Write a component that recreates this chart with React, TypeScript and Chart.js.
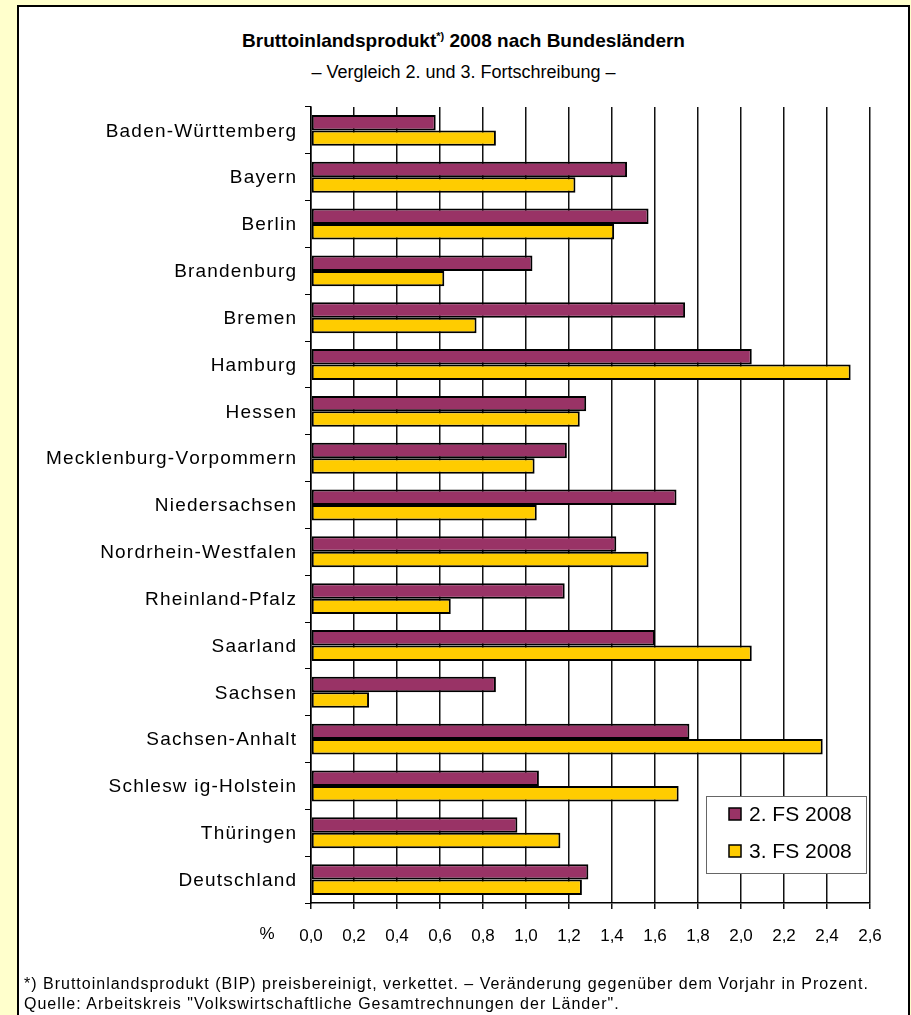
import { useEffect, useRef } from 'react';
import { Chart, registerables } from 'chart.js';

Chart.register(...registerables);

const categories = [
  'Baden-Württemberg',
  'Bayern',
  'Berlin',
  'Brandenburg',
  'Bremen',
  'Hamburg',
  'Hessen',
  'Mecklenburg-Vorpommern',
  'Niedersachsen',
  'Nordrhein-Westfalen',
  'Rheinland-Pfalz',
  'Saarland',
  'Sachsen',
  'Sachsen-Anhalt',
  'Schlesw ig-Holstein',
  'Thüringen',
  'Deutschland',
];

const seriesNames = ['2. FS 2008', '3. FS 2008'];
const fs2Values = [0.58, 1.47, 1.57, 1.03, 1.74, 2.05, 1.28, 1.19, 1.7, 1.42, 1.18, 1.6, 0.86, 1.76, 1.06, 0.96, 1.29];
const fs3Values = [0.86, 1.23, 1.41, 0.62, 0.77, 2.51, 1.25, 1.04, 1.05, 1.57, 0.65, 2.05, 0.27, 2.38, 1.71, 1.16, 1.26];
const seriesColors = ['#993366', '#FFCC00'];

const axisMin = 0;
const axisMax = 2.6;
const axisStep = 0.2;
const unitLabel = '%';

const titleText = 'Bruttoinlandsprodukt';
const titleSup = '*)';
const titleRest = ' 2008 nach Bundesländern';
const subtitleText = '– Vergleich 2. und 3. Fortschreibung –';
const footnote1 = '*) Bruttoinlandsprodukt (BIP) preisbereinigt, verkettet. – Veränderung gegenüber dem Vorjahr in Prozent.';
const footnote2 = 'Quelle: Arbeitskreis "Volkswirtschaftliche Gesamtrechnungen der Länder".';

const FONT = "'Liberation Sans', Arial, sans-serif";

function drawSpaced(ctx: CanvasRenderingContext2D, text: string, right: number, y: number, spacing: number) {
  const chars = Array.from(text);
  const widths = chars.map((c) => ctx.measureText(c).width);
  const total = widths.reduce((a, b) => a + b, 0) + spacing * (chars.length - 1);
  let x = right - total;
  ctx.textAlign = 'left';
  chars.forEach((c, i) => {
    ctx.fillText(c, x, y);
    x += widths[i] + spacing;
  });
}

const categoryLabelPlugin = {
  id: 'categoryLabels',
  afterDraw(chart: any) {
    const { ctx, scales } = chart;
    const ys = scales.y;
    ctx.save();
    ctx.font = `19px ${FONT}`;
    ctx.fillStyle = '#000';
    ctx.textBaseline = 'middle';
    const labels: string[] = chart.data.labels;
    labels.forEach((lab, i) => {
      drawSpaced(ctx, lab, ys.right - 15, ys.getPixelForTick(i) + 1, 1.2);
    });
    ctx.restore();
  },
};

const unitPlugin = {
  id: 'unitLabel',
  afterDraw(chart: any) {
    const { ctx, scales } = chart;
    const xs = scales.x;
    ctx.save();
    ctx.font = `17px ${FONT}`;
    ctx.fillStyle = '#000';
    ctx.textAlign = 'center';
    ctx.textBaseline = 'top';
    ctx.fillText(unitLabel, xs.getPixelForValue(0) - 44, xs.top + 6 + 17);
    ctx.restore();
  },
};

const legendPlugin = {
  id: 'boxLegend',
  afterDraw(chart: any) {
    const { ctx, chartArea } = chart;
    const w = 160;
    const h = 77;
    const x = chartArea.right - w - 4;
    const y = chartArea.bottom - h - 30;
    ctx.save();
    ctx.fillStyle = '#fff';
    ctx.fillRect(x, y, w, h);
    ctx.strokeStyle = '#666';
    ctx.lineWidth = 1;
    ctx.strokeRect(x + 0.5, y + 0.5, w, h);
    ctx.font = `21px ${FONT}`;
    ctx.textBaseline = 'middle';
    ctx.textAlign = 'left';
    chart.data.datasets.forEach((ds: any, i: number) => {
      const cy = y + 18 + i * 37;
      ctx.fillStyle = ds.backgroundColor;
      ctx.fillRect(x + 23, cy - 6, 12, 12);
      ctx.strokeStyle = '#000';
      ctx.lineWidth = 1.5;
      ctx.strokeRect(x + 23, cy - 6, 12, 12);
      ctx.fillStyle = '#000';
      ctx.fillText(ds.label, x + 43, cy + 1);
    });
    ctx.restore();
  },
};

export default function App() {
  const canvasRef = useRef<HTMLCanvasElement | null>(null);

  useEffect(() => {
    if (!canvasRef.current) return;
    const chart = new Chart(canvasRef.current, {
      type: 'bar',
      data: {
        labels: categories,
        datasets: [
          {
            label: seriesNames[0],
            data: fs2Values,
            backgroundColor: seriesColors[0],
            borderColor: '#000',
            borderWidth: 2,
            borderSkipped: false,
            categoryPercentage: 0.66,
            barPercentage: 1,
          },
          {
            label: seriesNames[1],
            data: fs3Values,
            backgroundColor: seriesColors[1],
            borderColor: '#000',
            borderWidth: 2,
            borderSkipped: false,
            categoryPercentage: 0.66,
            barPercentage: 1,
          },
        ],
      },
      options: {
        indexAxis: 'y',
        animation: false,
        responsive: false,
        maintainAspectRatio: false,
        layout: { padding: { top: 107, right: 41, bottom: 0, left: 0 } },
        plugins: {
          legend: { display: false },
          tooltip: { enabled: false },
          title: { display: false },
        },
        scales: {
          x: {
            type: 'linear',
            min: axisMin,
            max: axisMax,
            afterFit: (s: any) => {
              s.height = 112;
            },
            ticks: {
              stepSize: axisStep,
              autoSkip: false,
              maxRotation: 0,
              color: '#000',
              padding: 17,
              font: { family: FONT, size: 17 },
              callback: (v: any) => Number(v).toFixed(1).replace('.', ','),
            },
            grid: { color: '#111', lineWidth: 1.5, tickLength: 6, drawTicks: true },
            border: { color: '#000', width: 1.5 },
          },
          y: {
            type: 'category',
            afterFit: (s: any) => {
              s.width = 311;
            },
            ticks: {
              display: false,
              autoSkip: false,
            },
            grid: { offset: true, drawOnChartArea: false, tickLength: 6, color: '#000' },
            border: { color: '#000', width: 1.5 },
          },
        },
      },
      plugins: [categoryLabelPlugin, unitPlugin, legendPlugin],
    } as any);
    return () => chart.destroy();
  }, []);

  return (
    <div style={{ position: 'fixed', left: 0, top: 0, width: 911, height: 1015, background: '#FFFFCC', overflow: 'hidden', fontFamily: FONT }}>
      <div style={{ position: 'absolute', left: 17, top: 5, width: 893, height: 1030, background: '#fff', border: '2px solid #000', boxSizing: 'border-box' }} />
      <div style={{ position: 'absolute', left: 17, width: 893, top: 30, textAlign: 'center', fontSize: 19, fontWeight: 'bold', color: '#000' }}>
        {titleText}
        <sup style={{ fontSize: 11 }}>{titleSup}</sup>
        {titleRest}
      </div>
      <div style={{ position: 'absolute', left: 17, width: 893, top: 62, textAlign: 'center', fontSize: 18, color: '#000' }}>
        {subtitleText}
      </div>
      <canvas ref={canvasRef} width={911} height={1015} style={{ position: 'absolute', left: 0, top: 0, width: 911, height: 1015 }} />
      <div style={{ position: 'absolute', left: 24, top: 974, fontSize: 16, letterSpacing: 1, color: '#000', whiteSpace: 'nowrap', lineHeight: '20px' }}>
        <div>{footnote1}</div>
        <div>{footnote2}</div>
      </div>
    </div>
  );
}
